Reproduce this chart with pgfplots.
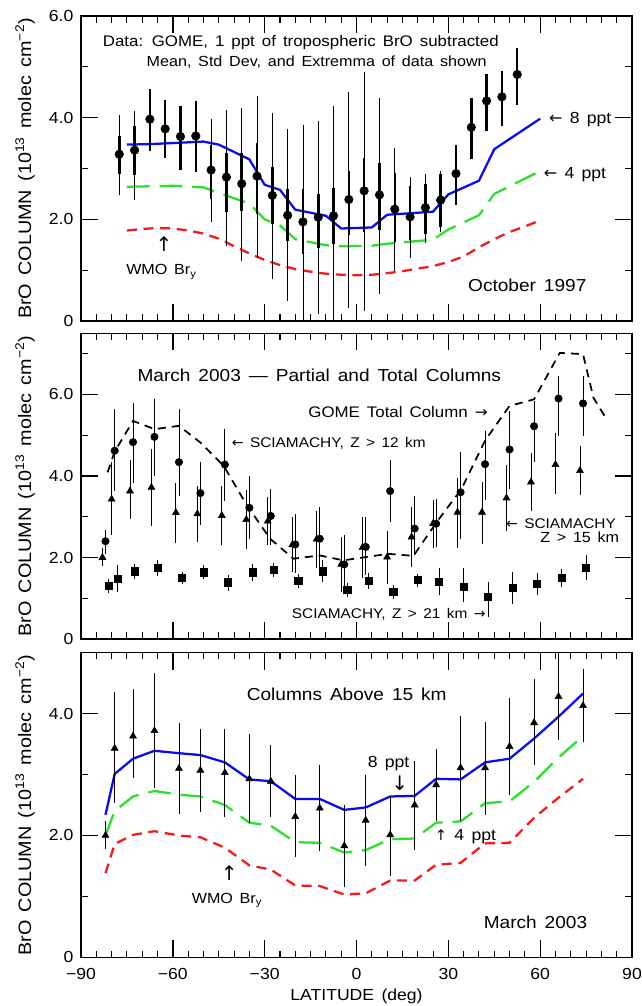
\documentclass[border=0pt]{standalone}
\usepackage{fontspec}
\setmainfont{Liberation Sans}[FakeStretch=1.1,WordSpace=1.5]
\newfontfamily\arr{DejaVu Sans}
\usepackage{pgfplots}
\pgfplotsset{compat=1.18}
\usepackage{pgfplotstable}

\definecolor{ppblue}{RGB}{10,10,245}
\definecolor{ppgreen}{RGB}{40,225,40}
\definecolor{ppred}{RGB}{245,25,25}
\newcommand{\fs}[1]{\fontsize{#1}{#1}\selectfont}
\newcommand{\la}{{\arr ←}}
\newcommand{\ra}{{\arr →}}
\newcommand{\ua}{{\arr ↑}}
\newcommand{\da}{{\arr ↓}}

% ---------- October 1997 (GOME) ----------
\pgfplotstableread{
lat   v    lo   hi   slo  shi
-77.5 3.28 2.48 4.06 2.90 3.64
-72.5 3.36 2.38 4.13 2.87 3.83
-67.5 3.97 3.34 4.56 3.34 4.56
-62.5 3.78 3.20 4.34 3.20 4.34
-57.5 3.63 2.98 4.22 2.98 4.22
-52.5 3.64 2.93 4.32 2.93 4.32
-47.5 2.97 1.95 3.98 2.40 3.47
-42.5 2.83 1.48 4.16 2.14 3.31
-37.5 2.70 1.19 4.20 2.17 3.31
-32.5 2.85 1.24 4.43 2.10 3.51
-27.5 2.47 0.83 4.09 1.91 3.02
-22.5 2.08 0.39 3.78 1.57 2.59
-17.5 1.95 0.00 3.86 1.31 2.59
-12.5 2.04 0.13 3.94 1.44 2.49
-7.5  2.07 0.00 4.22 1.52 2.62
-2.5  2.39 0.26 4.50 1.70 2.96
2.5   2.56 0.20 4.90 1.76 3.21
7.5   2.48 0.54 4.39 1.80 3.11
12.5  2.20 0.99 3.41 1.55 2.92
17.5  2.05 1.23 2.83 1.60 2.66
22.5  2.23 1.53 2.90 1.71 2.70
27.5  2.38 1.75 2.96 1.84 2.89
32.5  2.90 2.29 3.47 2.29 3.47
37.5  3.81 3.18 4.39 3.18 4.39
42.5  4.33 3.73 4.86 3.73 4.86
47.5  4.41 3.84 4.91 3.84 4.91
52.5  4.85 4.24 5.38 4.24 5.38
}\gomeA

\pgfplotstableread{
lat v
-75 3.47
-67.5 3.48
-60 3.50
-50 3.53
-45 3.47
-35 3.18
-30 2.68
-25 2.58
-20 2.19
-10 2.07
-5 1.82
5 1.84
10 2.09
25 2.15
30 2.49
40 2.76
45 3.38
60 3.98
}\blueA

\pgfplotstableread{
lat v
-75 2.64
-60 2.66
-50 2.63
-45 2.52
-35 2.31
-30 2.00
-25 1.88
-20 1.61
-10 1.49
-5 1.47
5 1.48
10 1.52
25 1.60
30 1.80
40 2.08
45 2.50
59 2.92
}\greenA

\pgfplotstableread{
lat v
-75 1.78
-70 1.81
-65 1.83
-60 1.82
-55 1.78
-50 1.72
-45 1.62
-40 1.47
-35 1.33
-30 1.20
-25 1.10
-20 1.02
-15 0.97
-10 0.93
-5 0.91
0 0.90
5 0.91
10 0.94
15 0.98
20 1.03
25 1.08
30 1.16
35 1.27
40 1.45
45 1.61
50 1.75
55 1.86
60 1.98
}\redA

% ---------- March 2003 (SCIAMACHY) ----------
\pgfplotstableread{
lat v lo hi
-82 2.40 2.09 2.67
-79 4.62 3.62 5.64
-73 4.83 3.84 5.79
-66 4.96 4.01 5.90
-58 4.34 3.52 5.64
-51 3.58 2.79 4.34
-43 4.28 3.39 5.15
-35 3.22 2.46 3.99
-28 3.02 2.30 3.69
-20 2.32 1.61 3.07
-12 2.46 1.73 3.23
-4 1.83 1.16 2.54
3 2.26 1.56 3.00
11 3.63 2.87 4.38
19 2.71 2.05 3.52
26 2.83 2.26 3.44
34 3.60 2.46 4.58
42 4.29 3.40 5.11
50 4.65 3.68 5.60
58 5.22 4.34 5.85
66 5.90 4.99 6.45
74 5.78 4.99 6.45
}\sciaTwelve

\pgfplotstableread{
lat v lo hi
-82 2.00 1.78 2.24
-79 3.43 2.54 4.35
-73 3.63 2.94 4.40
-66 3.72 2.78 4.66
-58 3.10 2.36 3.84
-51 3.07 2.39 3.75
-43 3.03 2.30 3.75
-35 2.93 2.21 3.66
-28 2.89 2.30 3.48
-20 2.31 1.64 3.00
-12 2.45 1.75 3.15
-4 1.83 1.15 2.50
3 2.25 1.50 3.00
11 2.01 1.34 2.65
19 2.50 1.76 3.23
26 2.83 2.24 3.42
34 3.11 2.24 3.96
42 3.11 2.34 3.86
50 3.46 2.66 4.26
58 3.85 3.15 4.56
66 4.28 3.56 5.05
74 4.13 3.53 4.74
}\sciaFifteen

\pgfplotstableread{
lat v lo hi
-81 1.30 1.12 1.48
-78 1.48 1.15 1.81
-72.5 1.66 1.47 1.85
-65 1.74 1.55 1.93
-57 1.50 1.34 1.65
-50 1.64 1.47 1.81
-42 1.39 1.19 1.56
-34 1.64 1.42 1.85
-27 1.70 1.51 1.86
-19 1.43 1.24 1.60
-11 1.66 1.40 1.93
-3 1.21 1.04 1.37
4 1.43 1.23 1.61
12 1.16 0.98 1.33
20 1.45 1.28 1.60
27 1.40 1.08 1.73
35 1.29 0.92 1.73
43 1.03 0.55 1.40
51 1.25 0.87 1.65
59 1.36 1.09 1.61
67 1.50 1.27 1.71
75 1.75 1.46 2.05
}\sciaTwentyOne

\pgfplotstableread{
lat v
-81.3 4.09
-79 4.60
-73 5.35
-66 5.15
-58 5.23
-51 4.82
-43.4 4.25
-35.8 3.28
-28.2 2.46
-20.6 1.97
-12 2.05
-4.3 1.93
3 2.01
10.4 2.09
18.6 2.04
26.2 2.87
34.3 3.68
42 4.87
50 5.72
58 5.88
66.4 7.02
74 6.99
77.4 5.92
81 5.48
}\gomeTotal

\pgfplotstableread{
lat blue green red
-82 2.34 2.00 1.38
-79 3.01 2.40 1.86
-73 3.26 2.64 2.01
-66 3.39 2.73 2.07
-58 3.35 2.67 2.00
-51 3.32 2.64 1.97
-43 3.20 2.50 1.80
-35 2.92 2.21 1.51
-28 2.89 2.16 1.44
-20 2.60 1.89 1.18
-12 2.60 1.88 1.17
-4 2.42 1.72 1.03
3 2.46 1.76 1.05
11 2.64 1.94 1.26
19 2.65 1.95 1.26
26 2.93 2.21 1.52
34 2.92 2.23 1.55
42 3.20 2.53 1.87
50 3.26 2.56 1.88
58 3.59 2.88 2.29
66 3.95 3.28 2.62
74 4.33 3.63 2.93
}\modelC

\tikzset{lab/.style={inner sep=0pt}}

\pgfplotsset{
  brpanel/.style={
    scale only axis, width=413.25pt, anchor=south west,
    xmin=-90, xmax=90, xtick={-90,-60,...,90}, minor xtick={-85,-80,...,85},
    tick align=inside, xtick pos=both, ytick pos=both,
    xticklabel pos=lower, yticklabel pos=left,
    major tick length=12.75pt, minor tick length=5pt,
    every major tick/.append style={line width=1pt, black},
    every minor tick/.append style={line width=0.8pt, black},
    axis line style={line width=1.2pt},
    tick label style={font=\fs{12}},
    yticklabel style={inner sep=0pt, xshift=-5.5pt},
    xticklabel style={inner sep=0pt, yshift=-8pt},
    ylabel={BrO COLUMN (10\textsuperscript{13} molec cm\textsuperscript{−2})},
    every axis y label/.style={at={(axis description cs:-0.0907,0.5)}, rotate=90, anchor=base, font=\fs{13.5}},
  },
  thinbar/.style={error bars/.cd, y dir=both, y explicit, error mark=none,
    error bar style={line width=0.6pt, black, solid}},
}

\begin{document}
\begin{tikzpicture}

% ===== panel 1 =====
\begin{axis}[brpanel, at={(60.75pt,-240.75pt)}, height=228.75pt,
  ymin=0, ymax=6, ytick={0,2,4,6}, minor ytick={1,3,5},
  yticklabels={0,2.0,4.0,6.0}, xticklabels={}]
\addplot[ppred, line width=1.7pt, dash pattern=on 7.5pt off 5pt] table[x=lat, y=v] {\redA};
\addplot[ppgreen, line width=1.7pt, dash pattern=on 17pt off 7.5pt] table[x=lat, y=v] {\greenA};
\addplot[ppblue, line width=1.7pt] table[x=lat, y=v] {\blueA};
\addplot[draw=none, mark=none, thinbar] table[x=lat, y=v,
  y error plus expr=\thisrow{hi}-\thisrow{v}, y error minus expr=\thisrow{v}-\thisrow{lo}] {\gomeA};
\addplot[only marks, mark=*, mark size=3.2pt, black,
  error bars/.cd, y dir=both, y explicit, error mark=none,
  error bar style={line width=1.9pt, black}]
  table[x=lat, y=v, y error plus expr=\thisrow{shi}-\thisrow{v}, y error minus expr=\thisrow{v}-\thisrow{slo}] {\gomeA};
\node[lab, anchor=base, font=\fs{11.5}] at (axis cs:-18.2,5.40) {Data: GOME, 1 ppt of tropospheric BrO subtracted};
\node[lab, anchor=base, font=\fs{11}] at (axis cs:-13,5.01) {Mean, Std Dev, and Extremma of data shown};
\node[lab, anchor=base west, font=\fs{12}] at (axis cs:62.8,3.88) {\la\ 8 ppt};
\node[lab, anchor=base west, font=\fs{12}] at (axis cs:61.1,2.81) {\la\ 4 ppt};
\node[lab, font=\fs{15}] at (axis cs:-62.9,1.51) {\ua};
\node[lab, anchor=base west, font=\fs{11}] at (axis cs:-75.3,0.905) {WMO Br\textsubscript{y}};
\node[lab, anchor=base west, font=\fs{13}] at (axis cs:36.4,0.59) {October 1997};
\end{axis}

% ===== panel 2 =====
\begin{axis}[brpanel, at={(60.75pt,-479.25pt)}, height=229.25pt,
  ymin=0, ymax=7.5, ytick={0,2,4,6}, minor ytick={1,3,5,7},
  yticklabels={0,2.0,4.0,6.0}, xticklabels={}]
\addplot[black, line width=1.3pt, dash pattern=on 6pt off 4.5pt] table[x=lat, y=v] {\gomeTotal};
\addplot[only marks, mark=*, mark size=2.8pt, black, thinbar]
  table[x=lat, y=v, y error plus expr=\thisrow{hi}-\thisrow{v}, y error minus expr=\thisrow{v}-\thisrow{lo}] {\sciaTwelve};
\addplot[only marks, mark=triangle*, mark size=3.0pt, black, thinbar]
  table[x expr=\thisrow{lat}-1, y=v, y error plus expr=\thisrow{hi}-\thisrow{v}, y error minus expr=\thisrow{v}-\thisrow{lo}] {\sciaFifteen};
\addplot[only marks, mark=square*, mark size=2.7pt, black, thinbar]
  table[x=lat, y=v, y error plus expr=\thisrow{hi}-\thisrow{v}, y error minus expr=\thisrow{v}-\thisrow{lo}] {\sciaTwentyOne};
\node[lab, anchor=base west, font=\fs{13}] at (axis cs:-71.6,6.33) {March 2003 — Partial and Total Columns};
\node[lab, anchor=base west, font=\fs{11.5}] at (axis cs:-15.8,5.44) {GOME Total Column \ra};
\node[lab, anchor=base west, font=\fs{10.5}] at (axis cs:-40.8,4.70) {\la\ SCIAMACHY, Z > 12 km};
\node[lab, anchor=base east, font=\fs{10.5}] at (axis cs:84.8,2.71) {\la\ SCIAMACHY};
\node[lab, anchor=base east, font=\fs{11}] at (axis cs:85.9,2.38) {Z > 15 km};
\node[lab, anchor=base west, font=\fs{10.5}] at (axis cs:-21.2,0.506) {SCIAMACHY, Z > 21 km \ra};
\end{axis}

% ===== panel 3 =====
\begin{axis}[brpanel, at={(60.75pt,-718pt)}, height=228.5pt,
  ymin=0, ymax=5, ytick={0,2,4}, minor ytick={1,3},
  yticklabels={0,2.0,4.0},
  xticklabels={−90,−60,−30,0,30,60,90},
  xlabel={LATITUDE (deg)},
  every axis x label/.style={at={(axis description cs:0.5,-0.1414)}, anchor=base, font=\fs{12}}]
\addplot[ppred, line width=1.7pt, dash pattern=on 7.5pt off 5pt] table[x=lat, y=red] {\modelC};
\addplot[ppgreen, line width=1.7pt, dash pattern=on 17pt off 7.5pt] table[x=lat, y=green] {\modelC};
\addplot[ppblue, line width=1.7pt] table[x=lat, y=blue] {\modelC};
\addplot[only marks, mark=triangle*, mark size=3.0pt, black, thinbar]
  table[x=lat, y=v, y error plus expr=\thisrow{hi}-\thisrow{v}, y error minus expr=\thisrow{v}-\thisrow{lo}] {\sciaFifteen};
\node[lab, anchor=base west, font=\fs{13}] at (axis cs:-35.9,4.21) {Columns Above 15 km};
\node[lab, anchor=base west, font=\fs{12}] at (axis cs:3.6,3.12) {8 ppt};
\node[lab, font=\fs{15}] at (axis cs:14.1,2.85) {\da};
\node[lab, anchor=base west, font=\fs{12}] at (axis cs:25.5,1.925) {{\fs{11}\ua}\ 4 ppt};
\node[lab, font=\fs{15}] at (axis cs:-41.6,1.38) {\ua};
\node[lab, anchor=base west, font=\fs{11}] at (axis cs:-53.9,0.88) {WMO Br\textsubscript{y}};
\node[lab, anchor=base west, font=\fs{13}] at (axis cs:41.5,0.47) {March 2003};
\end{axis}

\pgfresetboundingbox
\path[use as bounding box] (0pt,0pt) rectangle (481.5pt,-754.5pt);
\end{tikzpicture}
\end{document}
